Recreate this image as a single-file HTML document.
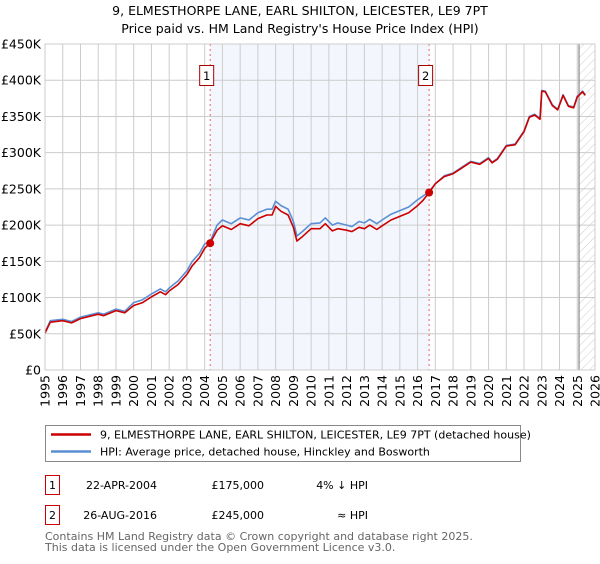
<!DOCTYPE html>
<html><head><meta charset="utf-8"><style>
body{margin:0;background:#fff;font-family:"DejaVu Sans","Liberation Sans",sans-serif;}
svg text{font-family:"DejaVu Sans","Liberation Sans",sans-serif;}
</style></head><body>
<svg id="chart" width="600" height="560" xmlns="http://www.w3.org/2000/svg">
<defs><pattern id="hatch" width="6" height="6" patternUnits="userSpaceOnUse" patternTransform="rotate(45)"><line x1="0" y1="0" x2="0" y2="6" stroke="#ccc" stroke-width="1"/></pattern></defs>
<text x="300" y="15" text-anchor="middle" font-size="12.5">9, ELMESTHORPE LANE, EARL SHILTON, LEICESTER, LE9 7PT</text>
<text x="300" y="33" text-anchor="middle" font-size="12.5">Price paid vs. HM Land Registry's House Price Index (HPI)</text>
<g id="plot"></g>
<rect x="45.5" y="425.5" width="475" height="36" fill="#fff" stroke="#888"/>
<line x1="51" y1="434.5" x2="91" y2="434.5" stroke="#cc0000" stroke-width="2.5"/>
<text x="100" y="438.5" font-size="11">9, ELMESTHORPE LANE, EARL SHILTON, LEICESTER, LE9 7PT (detached house)</text>
<line x1="51" y1="451.5" x2="91" y2="451.5" stroke="#5b8fd4" stroke-width="2.5"/>
<text x="100" y="455.5" font-size="11">HPI: Average price, detached house, Hinckley and Bosworth</text>
<rect x="45.5" y="475.5" width="14" height="19" fill="#fff" stroke="#cc0000"/>
<text x="52.5" y="489" text-anchor="middle" font-size="11">1</text>
<text x="157" y="489" text-anchor="end" font-size="11">22-APR-2004</text>
<text x="264" y="489" text-anchor="end" font-size="11">£175,000</text>
<text x="368" y="489" text-anchor="end" font-size="11">4% ↓ HPI</text>
<rect x="45.5" y="505.5" width="14" height="19" fill="#fff" stroke="#cc0000"/>
<text x="52.5" y="519" text-anchor="middle" font-size="11">2</text>
<text x="157" y="519" text-anchor="end" font-size="11">26-AUG-2016</text>
<text x="264" y="519" text-anchor="end" font-size="11">£245,000</text>
<text x="368" y="519" text-anchor="end" font-size="11">≈ HPI</text>
<text x="45" y="540" font-size="11" fill="#666">Contains HM Land Registry data © Crown copyright and database right 2025.</text>
<text x="45" y="551" font-size="11" fill="#666">This data is licensed under the Open Government Licence v3.0.</text>
</svg>
<script>
const years=[1995.0,1995.3,1996.0,1996.5,1997.0,1998.0,1998.3,1999.0,1999.5,2000.0,2000.5,2001.0,2001.5,2001.8,2002.0,2002.5,2003.0,2003.3,2003.7,2004.0,2004.3,2004.7,2005.0,2005.5,2006.0,2006.5,2007.0,2007.5,2007.8,2008.0,2008.3,2008.7,2009.0,2009.2,2009.5,2010.0,2010.5,2010.8,2011.2,2011.5,2012.0,2012.3,2012.7,2013.0,2013.3,2013.7,2014.0,2014.5,2015.0,2015.5,2016.0,2016.3,2016.65,2017.0,2017.5,2018.0,2018.5,2019.0,2019.5,2020.0,2020.2,2020.5,2021.0,2021.5,2022.0,2022.3,2022.6,2022.9,2023.0,2023.2,2023.6,2023.9,2024.2,2024.5,2024.8,2025.0,2025.3,2025.45];
const hpiValues=[52,68,70,67,73,79,77,84,81,93,97,105,112,108,113,123,137,150,161,174,177,200,207,202,210,207,217,222,222,233,227,222,205,185,191,202,203,210,200,203,200,198,205,203,208,202,207,215,220,225,235,240,246,257,268,272,280,288,285,293,287,292,310,312,330,350,353,347,386,385,366,360,380,365,363,378,385,380];
const priceValues=[51,66,68,65,71,77,75,82,79,89,93,101,108,104,109,118,132,144,155,168,175,193,199,194,202,199,209,214,214,226,219,214,197,178,184,195,195,202,192,195,193,191,197,195,200,194,199,207,212,217,227,234,245,257,267,271,279,287,284,292,286,291,309,311,329,349,352,346,385,384,365,359,379,364,362,377,384,379];
const yTicks=[0,50,100,150,200,250,300,350,400,450];
const yTickLabels=["£0","£50K","£100K","£150K","£200K","£250K","£300K","£350K","£400K","£450K"];
const xTicks=[1995,1996,1997,1998,1999,2000,2001,2002,2003,2004,2005,2006,2007,2008,2009,2010,2011,2012,2013,2014,2015,2016,2017,2018,2019,2020,2021,2022,2023,2024,2025,2026];
const saleYears=[2004.31,2016.65];
const salePrices=[175,245];
const saleLabels=["1","2"];
const shadeRange=[2004.31,2016.65];
const forecastStart=2025.1;

const L=45,R=595,T=44,B=370,X0=1995,X1=2026,YMAX=450;
const X=v=>L+(v-X0)/(X1-X0)*(R-L);
const Y=v=>B-v/YMAX*(B-T);
const NS="http://www.w3.org/2000/svg";
const g=document.getElementById('plot');
function mk(tag,attrs){const e=document.createElementNS(NS,tag);for(const k in attrs)e.setAttribute(k,attrs[k]);g.appendChild(e);return e;}

let e=mk('rect',{x:X(shadeRange[0]),y:T,width:X(shadeRange[1])-X(shadeRange[0]),height:B-T,fill:'#eef3fc',opacity:0.7});


e=mk('rect',{x:X(forecastStart),y:T,width:R-X(forecastStart),height:B-T,fill:'url(#hatch)'});


xTicks.forEach(t=>{
 const l=mk('line',{x1:X(t),x2:X(t),y1:T,y2:B,stroke:'#ccc','stroke-width':1});
 
 
 const tx=mk('text',{x:0,y:0,'font-size':12.5,'text-anchor':'end',transform:`translate(${X(t)+4.5},${B+5}) rotate(-90)`});
 tx.textContent=t;
 
 
});
yTicks.forEach((t,i)=>{
 const l=mk('line',{x1:L,x2:R,y1:Y(t),y2:Y(t),stroke:'#ccc','stroke-width':1});
 
 
 const tx=mk('text',{x:L-4,y:Y(t)+4.5,'font-size':12.5,'text-anchor':'end'});
 tx.textContent=yTickLabels[i];
 
 
});
e=mk('line',{x1:X(forecastStart),x2:X(forecastStart),y1:T,y2:B,stroke:'#888','stroke-width':1.2});


saleYears.forEach((s,i)=>{
 const l=mk('line',{x1:X(s),x2:X(s),y1:T,y2:B,stroke:'#e06666','stroke-width':1,'stroke-dasharray':'2,3'});
 
 
});
function path(vals,col,name){
 const d=years.map((y,i)=>(i?'L':'M')+X(y).toFixed(1)+','+Y(vals[i]).toFixed(1)).join('');
 const p=mk('path',{d:d,fill:'none',stroke:col,'stroke-width':1.6,'stroke-linejoin':'round'});
 
 
}
path(hpiValues,'#5b8fd4','hpi-line');
path(priceValues,'#cc0000','price-paid-line');
saleYears.forEach((s,i)=>{
 const c=mk('circle',{cx:X(s),cy:Y(salePrices[i]),r:4,fill:'#cc0000'});
 
 
 const b=mk('rect',{x:X(s)-10.5,y:65.5,width:14,height:20,fill:'#fff',stroke:'#aa0000'});
 
 
 const t=mk('text',{x:X(s)-3.5,y:80,'font-size':11.5,'text-anchor':'middle'});
 t.textContent=saleLabels[i];
 
 
});
e=mk('rect',{x:L,y:T,width:R-L,height:B-T,fill:'none',stroke:'#ccc'});


</script>
</body></html>
